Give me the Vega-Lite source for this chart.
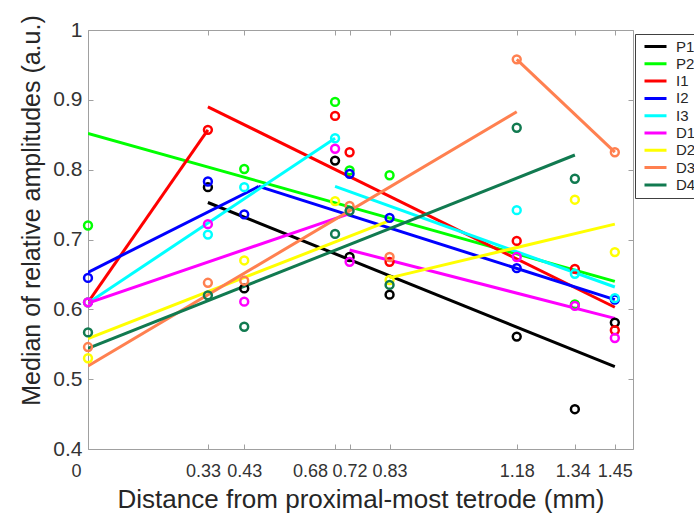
{
  "$schema": "https://vega.github.io/schema/vega-lite/v6.json",
  "width": 545,
  "height": 419,
  "autosize": "none",
  "padding": {"left": 88, "top": 30, "right": 61, "bottom": 74},
  "background": "white",
  "config": {
    "font": "Liberation Sans",
    "view": {"stroke": "#a0a0a0", "strokeWidth": 1},
    "axis": {
      "domain": false,
      "grid": false,
      "tickColor": "#a0a0a0",
      "tickWidth": 1,
      "labelColor": "#333333",
      "titleColor": "#262626",
      "titleFontWeight": "normal",
      "labelFont": "Liberation Sans",
      "titleFont": "Liberation Sans"
    }
  },
  "datasets": {
    "lines": [
      {"s": "P1", "seg": "P1a", "x": 0.33, "y": 0.753},
      {"s": "P1", "seg": "P1a", "x": 1.45, "y": 0.518},
      {"s": "P2", "seg": "P2a", "x": 0, "y": 0.852},
      {"s": "P2", "seg": "P2a", "x": 1.45, "y": 0.640},
      {"s": "I1", "seg": "I1a", "x": 0, "y": 0.61},
      {"s": "I1", "seg": "I1a", "x": 0.33, "y": 0.857},
      {"s": "I1", "seg": "I1b", "x": 0.33, "y": 0.89},
      {"s": "I1", "seg": "I1b", "x": 1.45, "y": 0.603},
      {"s": "I2", "seg": "I2a", "x": 0, "y": 0.653},
      {"s": "I2", "seg": "I2a", "x": 0.47, "y": 0.776},
      {"s": "I2", "seg": "I2b", "x": 0.47, "y": 0.776},
      {"s": "I2", "seg": "I2b", "x": 1.45, "y": 0.614},
      {"s": "I3", "seg": "I3a", "x": 0, "y": 0.609},
      {"s": "I3", "seg": "I3a", "x": 0.68, "y": 0.845},
      {"s": "I3", "seg": "I3b", "x": 0.68, "y": 0.776},
      {"s": "I3", "seg": "I3b", "x": 1.45, "y": 0.632},
      {"s": "D1", "seg": "D1a", "x": 0, "y": 0.609},
      {"s": "D1", "seg": "D1a", "x": 0.72, "y": 0.737},
      {"s": "D1", "seg": "D1b", "x": 0.72, "y": 0.685},
      {"s": "D1", "seg": "D1b", "x": 1.45, "y": 0.587},
      {"s": "D2", "seg": "D2a", "x": 0, "y": 0.558},
      {"s": "D2", "seg": "D2a", "x": 0.83, "y": 0.727},
      {"s": "D2", "seg": "D2b", "x": 0.83, "y": 0.645},
      {"s": "D2", "seg": "D2b", "x": 1.45, "y": 0.722},
      {"s": "D3", "seg": "D3a", "x": 0, "y": 0.519},
      {"s": "D3", "seg": "D3a", "x": 1.18, "y": 0.883},
      {"s": "D3", "seg": "D3b", "x": 1.18, "y": 0.958},
      {"s": "D3", "seg": "D3b", "x": 1.45, "y": 0.825},
      {"s": "D4", "seg": "D4a", "x": 0, "y": 0.544},
      {"s": "D4", "seg": "D4a", "x": 1.34, "y": 0.821}
    ],
    "points": [
      {"s": "P1", "x": 0.33, "y": 0.775},
      {"s": "P1", "x": 0.43, "y": 0.630},
      {"s": "P1", "x": 0.68, "y": 0.813},
      {"s": "P1", "x": 0.72, "y": 0.675},
      {"s": "P1", "x": 0.83, "y": 0.621},
      {"s": "P1", "x": 1.18, "y": 0.561},
      {"s": "P1", "x": 1.34, "y": 0.457},
      {"s": "P1", "x": 1.45, "y": 0.581},
      {"s": "P2", "x": 0, "y": 0.720},
      {"s": "P2", "x": 0.43, "y": 0.801},
      {"s": "P2", "x": 0.68, "y": 0.897},
      {"s": "P2", "x": 0.72, "y": 0.799},
      {"s": "P2", "x": 0.83, "y": 0.792},
      {"s": "P2", "x": 1.34, "y": 0.607},
      {"s": "I1", "x": 0, "y": 0.61},
      {"s": "I1", "x": 0.33, "y": 0.857},
      {"s": "I1", "x": 0.68, "y": 0.877},
      {"s": "I1", "x": 0.72, "y": 0.825},
      {"s": "I1", "x": 0.83, "y": 0.668},
      {"s": "I1", "x": 1.18, "y": 0.698},
      {"s": "I1", "x": 1.34, "y": 0.658},
      {"s": "I1", "x": 1.45, "y": 0.570},
      {"s": "I2", "x": 0, "y": 0.645},
      {"s": "I2", "x": 0.33, "y": 0.783},
      {"s": "I2", "x": 0.43, "y": 0.736},
      {"s": "I2", "x": 0.72, "y": 0.794},
      {"s": "I2", "x": 0.83, "y": 0.731},
      {"s": "I2", "x": 1.18, "y": 0.659},
      {"s": "I2", "x": 1.45, "y": 0.614},
      {"s": "I3", "x": 0, "y": 0.61},
      {"s": "I3", "x": 0.33, "y": 0.707},
      {"s": "I3", "x": 0.43, "y": 0.775},
      {"s": "I3", "x": 0.68, "y": 0.845},
      {"s": "I3", "x": 1.18, "y": 0.742},
      {"s": "I3", "x": 1.34, "y": 0.651},
      {"s": "I3", "x": 1.45, "y": 0.616},
      {"s": "D1", "x": 0, "y": 0.61},
      {"s": "D1", "x": 0.33, "y": 0.722},
      {"s": "D1", "x": 0.43, "y": 0.611},
      {"s": "D1", "x": 0.68, "y": 0.830},
      {"s": "D1", "x": 0.72, "y": 0.668},
      {"s": "D1", "x": 1.18, "y": 0.675},
      {"s": "D1", "x": 1.34, "y": 0.605},
      {"s": "D1", "x": 1.45, "y": 0.559},
      {"s": "D2", "x": 0, "y": 0.530},
      {"s": "D2", "x": 0.43, "y": 0.670},
      {"s": "D2", "x": 0.68, "y": 0.755},
      {"s": "D2", "x": 0.83, "y": 0.642},
      {"s": "D2", "x": 1.34, "y": 0.757},
      {"s": "D2", "x": 1.45, "y": 0.682},
      {"s": "D3", "x": 0, "y": 0.546},
      {"s": "D3", "x": 0.33, "y": 0.638},
      {"s": "D3", "x": 0.43, "y": 0.641},
      {"s": "D3", "x": 0.72, "y": 0.748},
      {"s": "D3", "x": 0.83, "y": 0.675},
      {"s": "D3", "x": 1.18, "y": 0.958},
      {"s": "D3", "x": 1.45, "y": 0.825},
      {"s": "D4", "x": 0, "y": 0.567},
      {"s": "D4", "x": 0.33, "y": 0.620},
      {"s": "D4", "x": 0.43, "y": 0.575},
      {"s": "D4", "x": 0.68, "y": 0.708},
      {"s": "D4", "x": 0.72, "y": 0.741},
      {"s": "D4", "x": 0.83, "y": 0.635},
      {"s": "D4", "x": 1.18, "y": 0.860},
      {"s": "D4", "x": 1.34, "y": 0.787}
    ]
  },
  "resolve": {"axis": {"x": "independent", "y": "independent"}},
  "layer": [
    {
      "data": {"name": "lines"},
      "mark": {"type": "line", "strokeWidth": 3, "clip": true},
      "encoding": {
        "x": {
          "field": "x", "type": "quantitative",
          "scale": {"domain": [0, 1.5], "nice": false, "zero": false},
          "axis": {
            "orient": "bottom",
            "values": [0, 0.33, 0.43, 0.68, 0.72, 0.83, 1.18, 1.34, 1.45],
            "labelExpr": "datum.value == 0 ? '0' : format(datum.value, '.2f')",
            "labelOverlap": false,
            "labelFlush": false,
            "labelBound": false,
            "labelFontSize": 18,
            "labelPadding": 18,
            "labelOffset": {
              "condition": [
                {"test": "datum.value == 0", "value": -12},
                {"test": "datum.value == 0.33", "value": -5},
                {"test": "datum.value == 0.68", "value": -25},
                {"test": "datum.value == 1.34", "value": -2}
              ],
              "value": 0
            },
            "tickSize": -5,
            "title": "Distance from proximal-most tetrode (mm)",
            "titleFontSize": 26,
            "titlePadding": 6
          }
        },
        "y": {
          "field": "y", "type": "quantitative",
          "scale": {"domain": [0.4, 1.0], "nice": false, "zero": false},
          "axis": {
            "orient": "left",
            "values": [0.4, 0.5, 0.6, 0.7, 0.8, 0.9, 1.0],
            "labelExpr": "datum.value == 1 ? '1' : format(datum.value, '.1f')",
            "labelOverlap": false,
            "labelFlush": false,
            "labelBound": false,
            "labelFontSize": 21,
            "labelPadding": 11,
            "tickSize": -5,
            "title": "Median of relative amplitudes (a.u.)",
            "titleFontSize": 25,
            "titlePadding": 8,
            "titleY": 180
          }
        },
        "color": {
          "field": "s", "type": "nominal",
          "scale": {
            "domain": ["P1", "P2", "I1", "I2", "I3", "D1", "D2", "D3", "D4"],
            "range": ["#000000", "#00ff00", "#ff0000", "#0000ff", "#00ffff", "#ff00ff", "#ffff00", "#ff8050", "#117a50"]
          },
          "legend": {
            "orient": "none",
            "legendX": 547,
            "legendY": 4,
            "title": null,
            "symbolType": "stroke",
            "symbolStrokeWidth": 3,
            "symbolSize": 484,
            "symbolOffset": 4,
            "clipHeight": 17,
            "rowPadding": 0.3,
            "labelFontSize": 15,
            "labelColor": "#262626",
            "labelOffset": 8,
            "padding": 4,
            "strokeColor": "#404040",
            "fillColor": "white",
            "cornerRadius": 0
          }
        },
        "detail": {"field": "seg"}
      }
    },
    {
      "data": {"name": "points"},
      "mark": {"type": "point", "shape": "circle", "filled": false, "size": 62, "strokeWidth": 2.5, "opacity": 1},
      "encoding": {
        "x": {
          "field": "x", "type": "quantitative",
          "axis": {
            "orient": "top",
            "values": [0, 0.33, 0.43, 0.68, 0.72, 0.83, 1.18, 1.34, 1.45],
            "labels": false,
            "title": null,
            "tickSize": -5
          }
        },
        "y": {
          "field": "y", "type": "quantitative",
          "axis": {
            "orient": "right",
            "values": [0.4, 0.5, 0.6, 0.7, 0.8, 0.9, 1.0],
            "labels": false,
            "title": null,
            "tickSize": -5
          }
        },
        "color": {"field": "s", "type": "nominal"}
      }
    }
  ]
}
